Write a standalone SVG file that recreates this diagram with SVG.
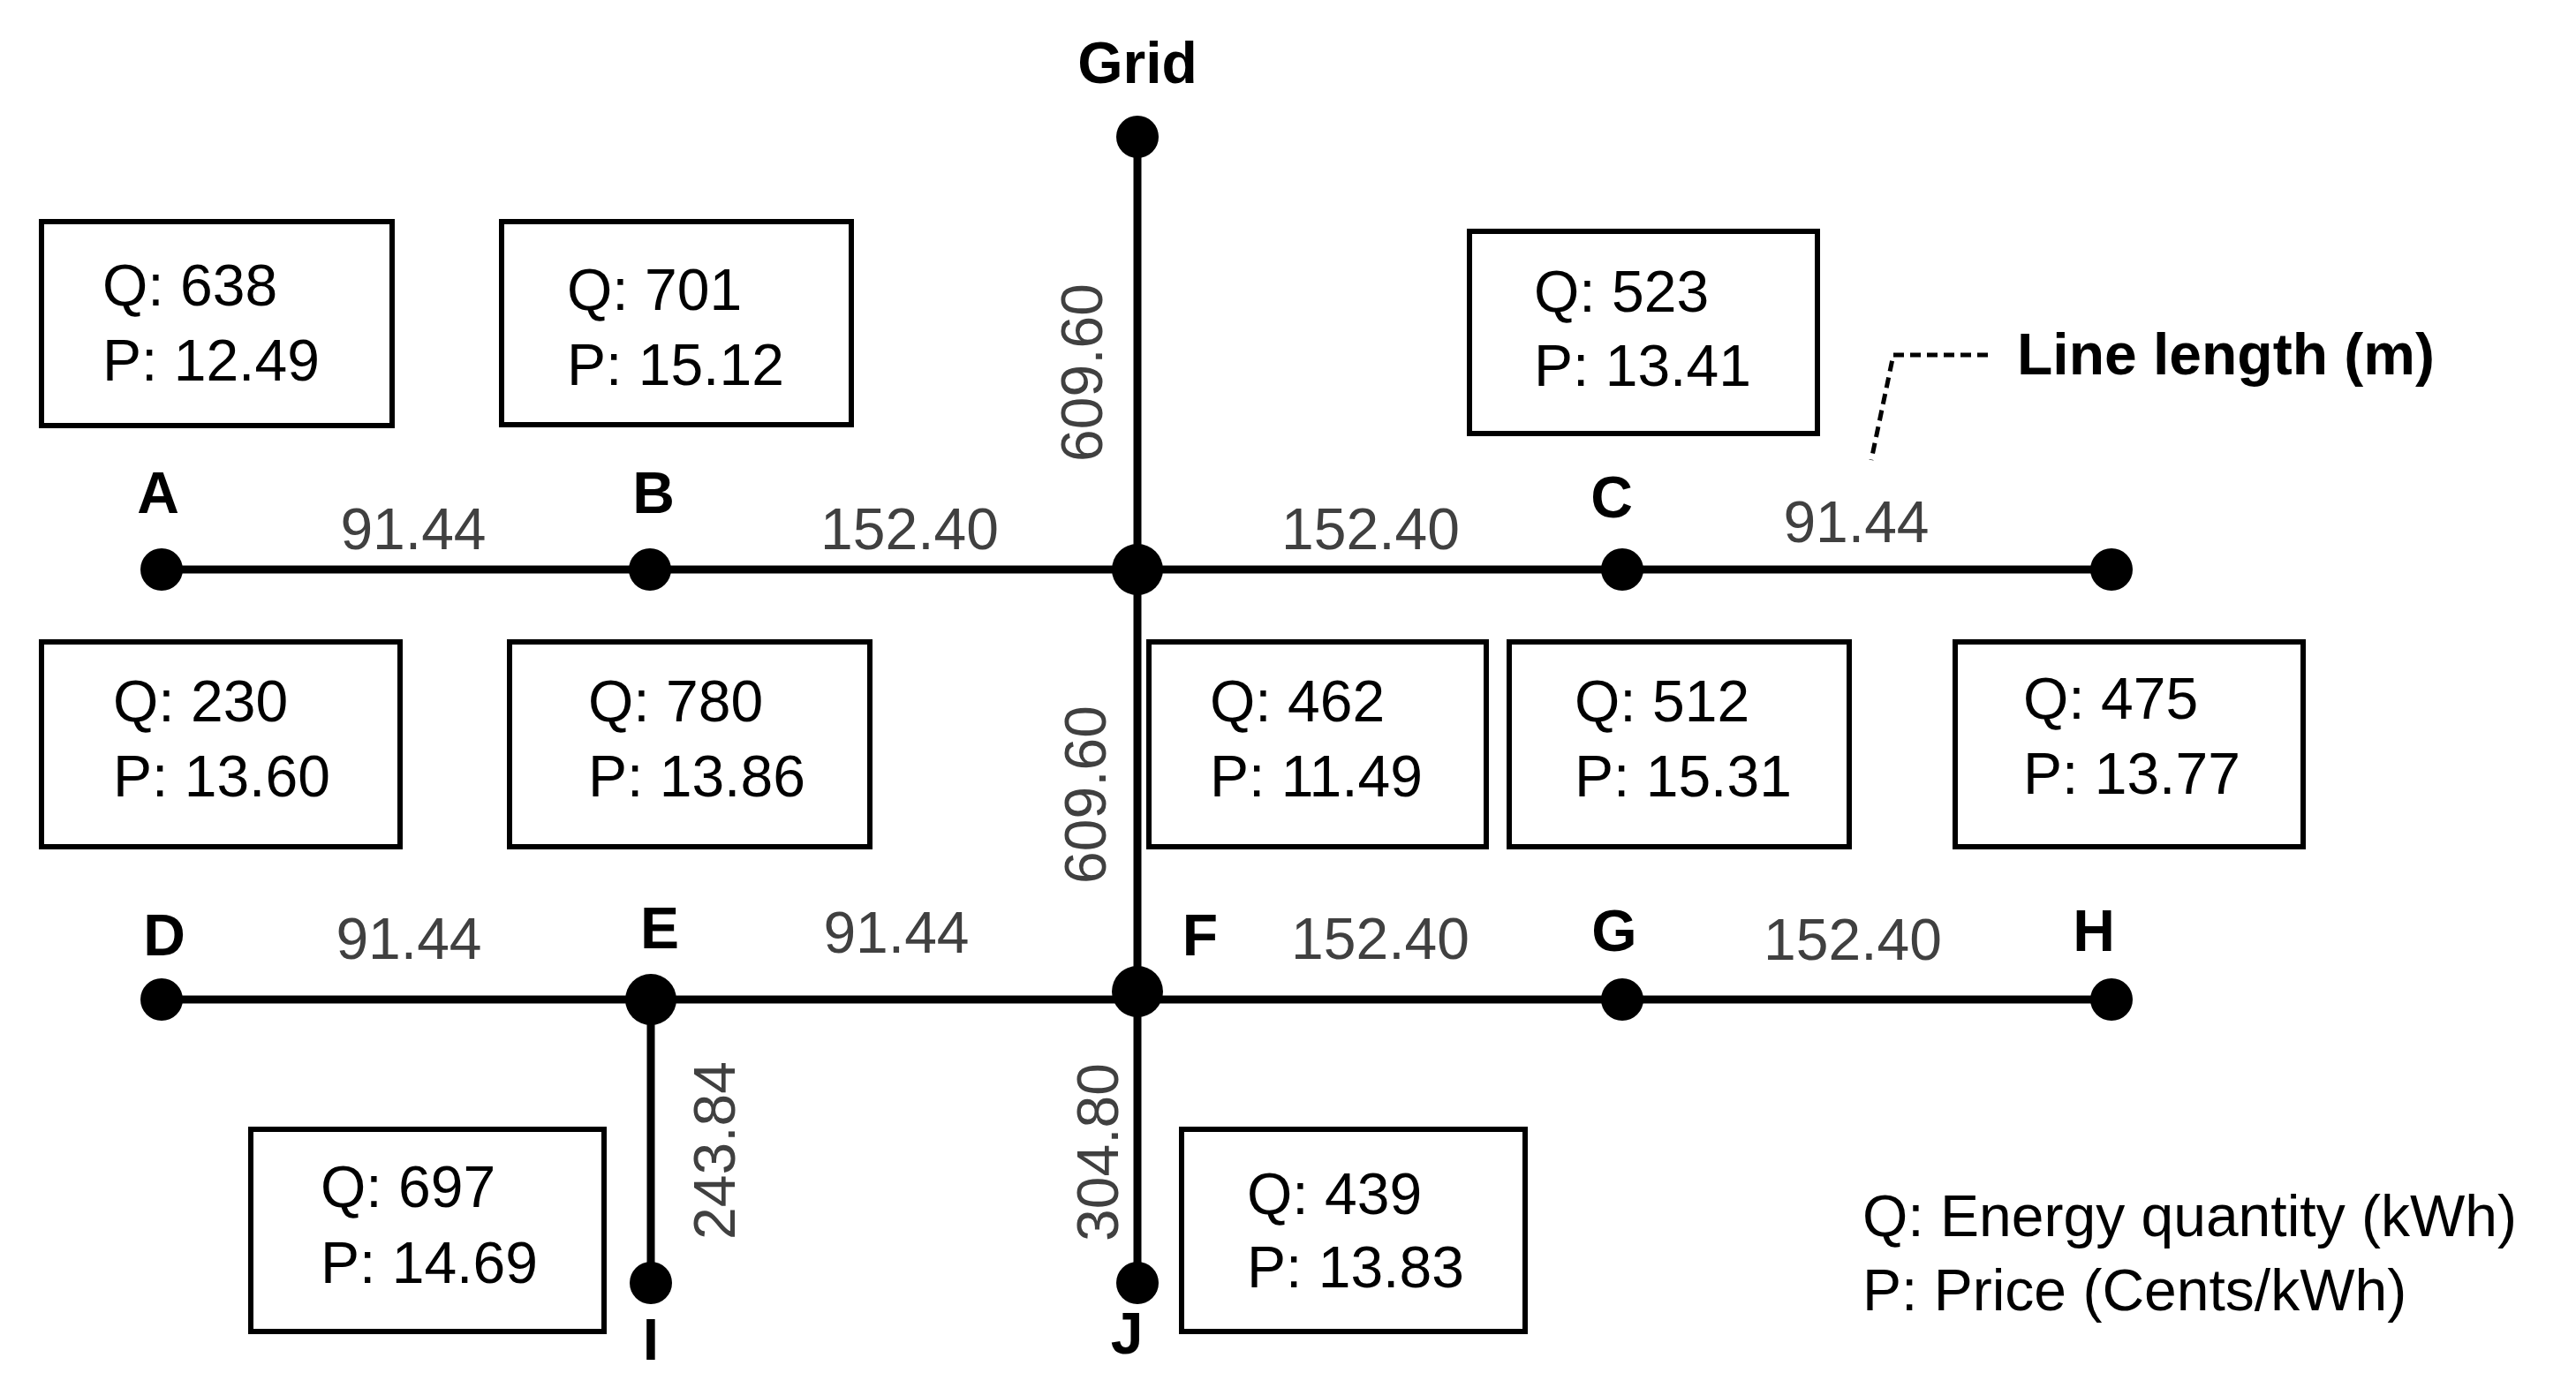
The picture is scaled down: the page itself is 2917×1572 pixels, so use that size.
<svg xmlns="http://www.w3.org/2000/svg" width="2917" height="1572" viewBox="0 0 2917 1572">
<style>
text{font-family:"Liberation Sans",Arial,sans-serif;font-size:66px}
.lbl{font-weight:bold;text-anchor:middle;fill:#000}
.len{fill:#404040;text-anchor:middle}
.box{fill:#fff;stroke:#000;stroke-width:6}
.ln{stroke:#000;stroke-width:9;fill:none}
.bt{fill:#000}
</style>
<rect width="2917" height="1572" fill="#fff"/>
<g id="connectors">
<line class="ln" x1="1288" y1="155" x2="1288" y2="1453"/>
<line class="ln" x1="183" y1="645" x2="2391" y2="645"/>
<line class="ln" x1="183" y1="1132" x2="2391" y2="1132"/>
<line class="ln" x1="737" y1="1132" x2="737" y2="1453"/>
<path d="M2251,402 H2144 L2119,521" fill="none" stroke="#000" stroke-width="5" stroke-dasharray="12,7"/>
</g>
<g id="lengths">
<text class="len" x="468" y="622">91.44</text>
<text class="len" x="1030" y="622">152.40</text>
<text class="len" x="1552" y="622">152.40</text>
<text class="len" x="2102" y="614">91.44</text>
<text class="len" x="463" y="1086">91.44</text>
<text class="len" x="1015" y="1079">91.44</text>
<text class="len" x="1563" y="1086">152.40</text>
<text class="len" x="2098" y="1087">152.40</text>
<text class="len" transform="translate(1248,422) rotate(-90)">609.60</text>
<text class="len" transform="translate(1252,900) rotate(-90)">609.60</text>
<text class="len" transform="translate(832,1303) rotate(-90)">243.84</text>
<text class="len" transform="translate(1266,1305) rotate(-90)">304.80</text>
</g>
<g id="Grid"><circle cx="1288" cy="155" r="24"/><text class="lbl" x="1288" y="94">Grid</text></g>
<g id="hub"><circle cx="1288" cy="645" r="29"/></g>
<g id="A"><circle cx="183" cy="645" r="24"/><text class="lbl" x="179" y="581">A</text></g>
<g id="B"><circle cx="736" cy="645" r="24"/><text class="lbl" x="740" y="581">B</text></g>
<g id="C"><circle cx="1837" cy="645" r="24"/><text class="lbl" x="1825" y="586">C</text></g>
<g id="end"><circle cx="2391" cy="645" r="24"/></g>
<g id="D"><circle cx="183" cy="1132" r="24"/><text class="lbl" x="186" y="1082">D</text></g>
<g id="E"><circle cx="737" cy="1132" r="29"/><text class="lbl" x="747" y="1074">E</text></g>
<g id="F"><circle cx="1288" cy="1123" r="29"/><text class="lbl" x="1359" y="1082">F</text></g>
<g id="G"><circle cx="1837" cy="1132" r="24"/><text class="lbl" x="1828" y="1077">G</text></g>
<g id="H"><circle cx="2391" cy="1132" r="24"/><text class="lbl" x="2371" y="1077">H</text></g>
<g id="I"><circle cx="737" cy="1453" r="24"/><text class="lbl" x="737" y="1540">I</text></g>
<g id="J"><circle cx="1288" cy="1453" r="24"/><text class="lbl" x="1276" y="1533">J</text></g>
<g id="boxA"><rect class="box" x="47" y="251" width="397" height="231"/><text class="bt" x="116" y="346">Q: 638</text><text class="bt" x="116" y="431">P: 12.49</text></g>
<g id="boxB"><rect class="box" x="568" y="251" width="396" height="230"/><text class="bt" x="642" y="351">Q: 701</text><text class="bt" x="642" y="436">P: 15.12</text></g>
<g id="boxC"><rect class="box" x="1664" y="262" width="394" height="229"/><text class="bt" x="1737" y="353">Q: 523</text><text class="bt" x="1737" y="437">P: 13.41</text></g>
<g id="boxD"><rect class="box" x="47" y="727" width="406" height="232"/><text class="bt" x="128" y="817">Q: 230</text><text class="bt" x="128" y="902">P: 13.60</text></g>
<g id="boxE"><rect class="box" x="577" y="727" width="408" height="232"/><text class="bt" x="666" y="817">Q: 780</text><text class="bt" x="666" y="902">P: 13.86</text></g>
<g id="boxF"><rect class="box" x="1301" y="727" width="382" height="232"/><text class="bt" x="1370" y="817">Q: 462</text><text class="bt" x="1370" y="902">P: 11.49</text></g>
<g id="boxG"><rect class="box" x="1709" y="727" width="385" height="232"/><text class="bt" x="1783" y="817">Q: 512</text><text class="bt" x="1783" y="902">P: 15.31</text></g>
<g id="boxH"><rect class="box" x="2214" y="727" width="394" height="232"/><text class="bt" x="2291" y="814">Q: 475</text><text class="bt" x="2291" y="899">P: 13.77</text></g>
<g id="boxI"><rect class="box" x="284" y="1279" width="400" height="229"/><text class="bt" x="363" y="1367">Q: 697</text><text class="bt" x="363" y="1453">P: 14.69</text></g>
<g id="boxJ"><rect class="box" x="1338" y="1279" width="389" height="229"/><text class="bt" x="1412" y="1375">Q: 439</text><text class="bt" x="1412" y="1458">P: 13.83</text></g>
<g id="legend">
<text x="2284" y="424" font-weight="bold">Line length (m)</text>
<text x="2109" y="1400">Q: Energy quantity (kWh)</text>
<text x="2109" y="1484">P: Price (Cents/kWh)</text>
</g>
</svg>
